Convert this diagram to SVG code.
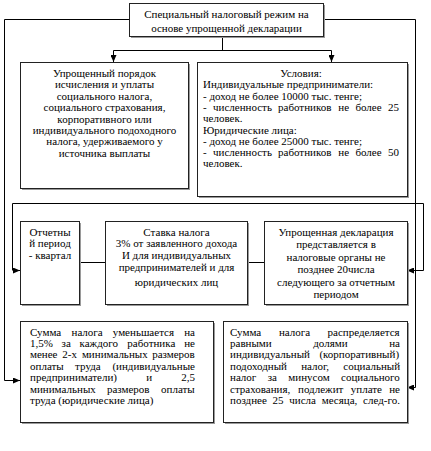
<svg xmlns="http://www.w3.org/2000/svg" width="431" height="451" viewBox="0 0 431 451" font-family="'Liberation Serif', 'Times New Roman', 'DejaVu Serif', serif" font-size="11">
<defs>
<marker id="arr" markerUnits="userSpaceOnUse" markerWidth="7" markerHeight="6" refX="7" refY="3" orient="auto">
<path d="M0,0 L7,3 L0,6 z" fill="#000"/>
</marker>
</defs>
<style>
.box{fill:#fff;stroke:#222;stroke-width:1}
.sh{fill:#9a9a9a}
.ln{fill:none;stroke:#000;stroke-width:1}
.t{font-family:'Liberation Serif','Times New Roman','DejaVu Serif',serif;font-size:11px;fill:#000}
.c{text-anchor:middle}
</style>
<rect width="431" height="451" fill="#fff"/>
<g id="connectors">
<path class="ln" d="M129,19.5 H4.5 V380.5 H20" marker-end="url(#arr)"/>
<path class="ln" d="M323,19.5 H415.5 V387.5 H407" marker-end="url(#arr)"/>
<path class="ln" d="M222.5,36 V50.5"/>
<path class="ln" d="M113.5,50.5 H331.5"/>
<path class="ln" d="M113.5,50.5 V62" marker-end="url(#arr)"/>
<path class="ln" d="M331.5,50.5 V62" marker-end="url(#arr)"/>
<path class="ln" d="M12.5,270 V203.5 H423.5 V270.5"/>
<path class="ln" d="M12.5,270.5 H20" marker-end="url(#arr)"/>
<path class="ln" d="M423.5,270.5 H407" marker-end="url(#arr)"/>
<path class="ln" d="M79,262.5 H105"/>
<path class="ln" d="M247,262.5 H264"/>
</g>
<g id="n-top" class="t">
<rect class="sh" x="131" y="5" width="194" height="33"/>
<rect class="box" x="129.5" y="3.5" width="194" height="33"/>
<text class="c" x="226.5" y="18">Специальный налоговый режим на</text>
<text class="c" x="226.5" y="32">основе упрощенной декларации</text>
</g>
<g id="n-order" class="t">
<rect class="sh" x="22" y="64" width="168" height="126"/>
<rect class="box" x="20.5" y="62.5" width="168" height="126"/>
<text class="c" x="104.5" y="77">Упрощенный порядок</text>
<text class="c" x="104.5" y="88.4">исчисления и уплаты</text>
<text class="c" x="104.5" y="99.8">социального налога,</text>
<text class="c" x="104.5" y="111.2">социального страхования,</text>
<text class="c" x="104.5" y="122.6">корпоративного или</text>
<text class="c" x="104.5" y="134">индивидуального подоходного</text>
<text class="c" x="104.5" y="145.4">налога, удерживаемого у</text>
<text class="c" x="104.5" y="156.8">источника выплаты</text>
</g>
<g id="n-conditions" class="t">
<rect class="sh" x="199" y="64" width="210" height="134"/>
<rect class="box" x="197.5" y="62.5" width="210" height="134"/>
<text class="c" x="301" y="77">Условия:</text>
<text x="203" y="88.3">Индивидуальные предприниматели:</text>
<text x="203" y="99.6">- доход не более 10000 тыс. тенге;</text>
<text y="110.9"><tspan x="203">-</tspan><tspan x="213">численность</tspan><tspan x="278">работников</tspan><tspan x="338.3">не</tspan><tspan x="355.4">более</tspan><tspan x="388">25</tspan></text>
<text x="203" y="122.2">человек.</text>
<text x="203" y="133.5">Юридические лица:</text>
<text x="203" y="144.8">- доход не более 25000 тыс. тенге;</text>
<text y="156.1"><tspan x="203">-</tspan><tspan x="213">численность</tspan><tspan x="278">работников</tspan><tspan x="338.3">не</tspan><tspan x="355.4">более</tspan><tspan x="388">50</tspan></text>
<text x="203" y="167.4">человек.</text>
</g>
<g id="n-period" class="t">
<rect class="sh" x="22" y="223" width="59" height="83"/>
<rect class="box" x="20.5" y="221.5" width="59" height="83"/>
<text class="c" x="50" y="235.5">Отчетны</text>
<text class="c" x="50" y="247">й период</text>
<text class="c" x="50" y="258.5">- квартал</text>
</g>
<g id="n-rate" class="t">
<rect class="sh" x="107" y="223" width="142" height="83"/>
<rect class="box" x="105.5" y="221.5" width="142" height="83"/>
<text class="c" x="176.5" y="235.5">Ставка налога</text>
<text class="c" x="176.5" y="247">3% от заявленного дохода</text>
<text class="c" x="176.5" y="258.5">И для индивидуальных</text>
<text class="c" x="176.5" y="271">предпринимателей и для</text>
<text class="c" x="176.5" y="286">юридических лиц</text>
</g>
<g id="n-declaration" class="t">
<rect class="sh" x="266" y="223" width="143" height="83"/>
<rect class="box" x="264.5" y="221.5" width="143" height="83"/>
<text class="c" x="336" y="235.5">Упрощенная декларация</text>
<text class="c" x="336" y="248">представляется в</text>
<text class="c" x="336" y="260.5">налоговые органы не</text>
<text class="c" x="336" y="273">позднее 20числа</text>
<text class="c" x="336" y="285.5">следующего за отчетным</text>
<text class="c" x="336" y="298">периодом</text>
</g>
<g id="n-reduce" class="t">
<rect class="sh" x="22" y="323" width="193" height="101"/>
<rect class="box" x="20.5" y="321.5" width="193" height="101"/>
<text y="335.5"><tspan x="30">Сумма</tspan><tspan x="71.5">налога</tspan><tspan x="112.8">уменьшается</tspan><tspan x="184.2">на</tspan></text>
<text y="346.9"><tspan x="30">1,5%</tspan><tspan x="61.6">за</tspan><tspan x="79.5">каждого</tspan><tspan x="127.3">работника</tspan><tspan x="184.2">не</tspan></text>
<text y="358.3"><tspan x="30">менее</tspan><tspan x="62.3">2-х</tspan><tspan x="81.9">минимальных</tspan><tspan x="152.2">размеров</tspan></text>
<text y="369.7"><tspan x="30">оплаты</tspan><tspan x="75.1">труда</tspan><tspan x="112.4">(индивидуальные</tspan></text>
<text y="381.1"><tspan x="30">предприниматели)</tspan><tspan x="146.3">и</tspan><tspan x="181.2">2,5</tspan></text>
<text y="392.5"><tspan x="30">минимальных</tspan><tspan x="106.9">размеров</tspan><tspan x="161">оплаты</tspan></text>
<text x="30" y="403.9">труда (юридические лица)</text>
</g>
<g id="n-distribute" class="t">
<rect class="sh" x="225" y="323" width="184" height="101"/>
<rect class="box" x="223.5" y="321.5" width="184" height="101"/>
<text y="335.5"><tspan x="230">Сумма</tspan><tspan x="278.9">налога</tspan><tspan x="327.5">распределяется</tspan></text>
<text y="346.9"><tspan x="230">равными</tspan><tspan x="313.2">долями</tspan><tspan x="389.2">на</tspan></text>
<text y="358.3"><tspan x="230">индивидуальный</tspan><tspan x="319.4">(корпоративный)</tspan></text>
<text y="369.7"><tspan x="230">подоходный</tspan><tspan x="301.2">налог,</tspan><tspan x="343.3">социальный</tspan></text>
<text y="381.1"><tspan x="230">налог</tspan><tspan x="267.7">за</tspan><tspan x="288.3">минусом</tspan><tspan x="341.1">социального</tspan></text>
<text y="392.5"><tspan x="230">страхования,</tspan><tspan x="298">подлежит</tspan><tspan x="350.8">уплате</tspan><tspan x="389.2">не</tspan></text>
<text x="230" y="403.9" word-spacing="3">позднее 25 числа месяца, след-го.</text>
</g>
</svg>
